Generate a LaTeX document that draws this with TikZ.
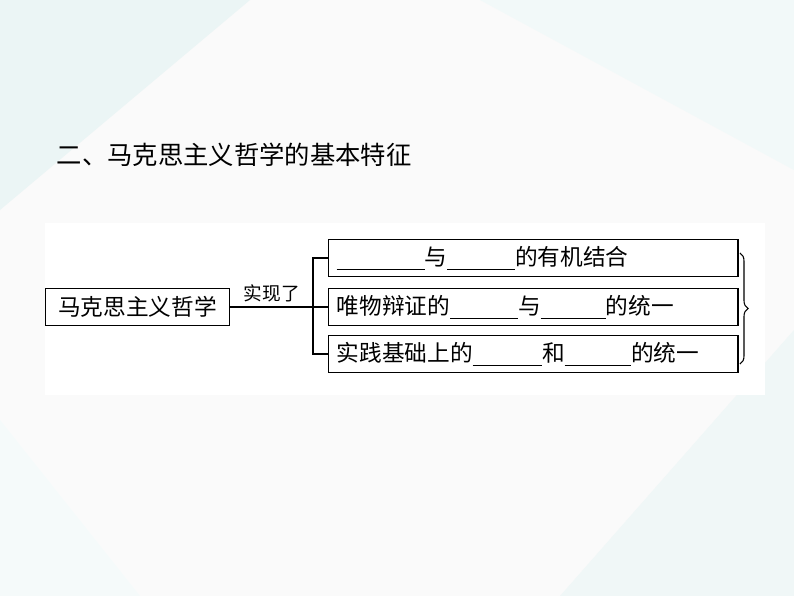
\documentclass[tikz,border=0pt]{standalone}
\usepackage{fontspec}
\setmainfont{Noto Sans CJK SC}
\usetikzlibrary{positioning,decorations.pathreplacing}
\newcommand{\blank}[1]{\rule[-3pt]{#1pt}{0.6pt}}
\tikzset{
  frame/.style={draw, line width=1pt, minimum height=27.5pt, inner xsep=6pt, inner ysep=1pt, font=\fontsize{17pt}{18pt}\selectfont},
  branch/.style={frame, minimum width=307pt, anchor=west, text width=295pt, align=left},
  link/.style={line width=1pt}
}
\begin{document}
\begin{tikzpicture}[x=0.75pt,y=-0.75pt]
  % background
  \fill[gray!4] (0,0) rectangle (794,596);
  \useasboundingbox (0,0) rectangle (794,596);
  \fill[teal!8] (0,0) -- (250,0) -- (0,210) -- cycle;
  \fill[teal!5] (480,0) -- (794,0) -- (794,170) -- cycle;
  \fill[teal!6] (794,330) -- (794,596) -- (560,596) -- cycle;
  \fill[teal!4] (0,420) -- (0,596) -- (140,596) -- cycle;
  \fill[white] (45,223) rectangle (765,395);
  % title
  \node[anchor=west, font=\fontsize{19pt}{21pt}\selectfont] (title) at (52,155) {二、马克思主义哲学的基本特征};
  % boxes
  \node[frame, minimum width=138pt, anchor=west] (phil) at (45,307) {马克思主义哲学};
  \node[branch] (b1) at (328,258) {\blank{66}与\blank{51}的有机结合};
  \node[branch] (b2) at (328,307) {唯物辩证的\blank{51}与\blank{49}的统一};
  \node[branch] (b3) at (328,354) {实践基础上的\blank{52}和\blank{50}的统一};
  \coordinate (fork) at (313,307);
  \draw[link] (phil.east) -- node[above, font=\fontsize{14pt}{15pt}\selectfont] {实现了} (fork);
  \draw[link] (b1.west) -| (fork) |- (b3.west);
  \draw[link] (fork) -- (b2.west);
  \draw[line width=0.8pt, decorate, decoration={brace, amplitude=6pt}] (740,253) -- (740,364);
\end{tikzpicture}
\end{document}
